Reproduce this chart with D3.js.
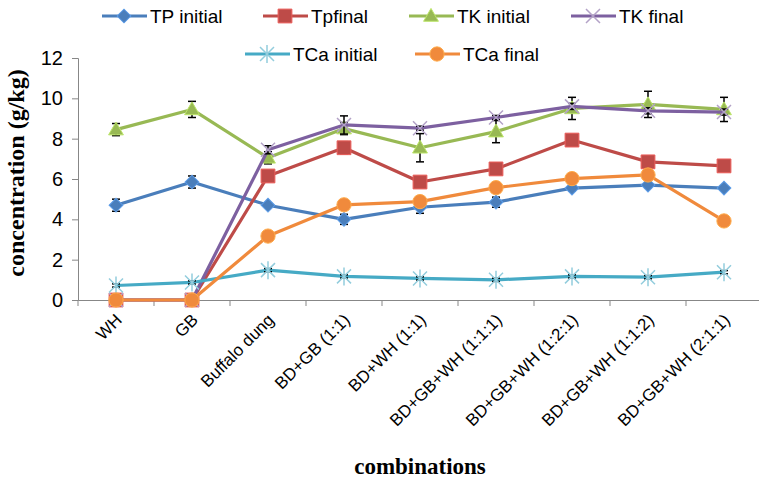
<!DOCTYPE html>
<html>
<head>
<meta charset="utf-8">
<script src="https://cdn.jsdelivr.net/npm/d3@7"></script>
<style>
    body { margin: 0; background: #fff; }
    svg { display: block; }
    text { font-family: 'Liberation Sans Narrow', 'Arial Narrow', 'Liberation Sans', sans-serif; fill: #000; }
    .title { font-family: 'Liberation Serif', 'Times New Roman', serif; font-weight: bold; }
</style>
</head>
<body>
<svg id="chart"></svg>
<script>
const width = 759;
const height = 480;

const categories = ['WH', 'GB', 'Buffalo dung', 'BD+GB (1:1)', 'BD+WH (1:1)', 'BD+GB+WH (1:1:1)',
    'BD+GB+WH (1:2:1)', 'BD+GB+WH (1:1:2)', 'BD+GB+WH (2:1:1)'];
const yTicks = [0, 2, 4, 6, 8, 10, 12];

const tpInitial = [4.7, 5.85, 4.7, 4.0, 4.6, 4.85, 5.55, 5.7, 5.55];
const tpFinal = [0, 0, 6.15, 7.55, 5.85, 6.5, 7.93, 6.85, 6.65];
const tkInitial = [8.45, 9.45, 7.05, 8.5, 7.55, 8.35, 9.5, 9.7, 9.45];
const tkFinal = [0, 0, 7.45, 8.68, 8.52, 9.05, 9.6, 9.38, 9.32];
const tcaInitial = [0.72, 0.87, 1.48, 1.17, 1.07, 1.0, 1.17, 1.13, 1.38];
const tcaFinal = [0, 0, 3.17, 4.72, 4.88, 5.57, 6.02, 6.2, 3.92];

const tpInitialErr = [0.3, 0.3, 0.1, 0.25, 0.3, 0.25, 0.15, 0.15, 0.1];
const tpFinalErr = [0, 0, 0.15, 0.3, 0.1, 0.1, 0.1, 0.1, 0.1];
const tkInitialErr = [0.3, 0.4, 0.3, 0.3, 0.7, 0.55, 0.55, 0.65, 0.6];
const tkFinalErr = [0, 0, 0.2, 0.45, 0.1, 0.1, 0.15, 0.15, 0.15];
const tcaInitialErr = [0.08, 0.08, 0.08, 0.08, 0.08, 0.08, 0.08, 0.08, 0.08];
const tcaFinalErr = [0.1, 0.1, 0.1, 0.1, 0.1, 0.1, 0.1, 0.1, 0.1];

const series = [
    { name: 'TP initial', values: tpInitial, err: tpInitialErr, color: '#4a7ebb', marker: 'diamond', mark: '#4a7ebb' },
    { name: 'Tpfinal', values: tpFinal, err: tpFinalErr, color: '#be4b48', marker: 'square', mark: '#be4b48' },
    { name: 'TK initial', values: tkInitial, err: tkInitialErr, color: '#98b954', marker: 'triangle', mark: '#98b954' },
    { name: 'TK final', values: tkFinal, err: tkFinalErr, color: '#7d60a0', marker: 'x', mark: '#b3a2c7' },
    { name: 'TCa initial', values: tcaInitial, err: tcaInitialErr, color: '#46aac5', marker: 'star', mark: '#93cddd' },
    { name: 'TCa final', values: tcaFinal, err: tcaFinalErr, color: '#f08a3c', marker: 'circle', mark: '#f08a3c' }
];

const legendPos = [[102, 16], [263, 16], [409, 16], [571, 16], [245, 54], [415, 54]];

const margin = { top: 58, right: -3, bottom: 180, left: 78 };

const svg = d3.select('#chart')
    .attr('width', width)
    .attr('height', height);

const x = d3.scaleBand()
    .domain(categories)
    .range([margin.left, width - margin.right]);

const y = d3.scaleLinear()
    .domain([0, 12])
    .range([height - margin.bottom, margin.top]);

const cx = c => x(c) + x.bandwidth() / 2;

const drawMarker = (g, type, fill, stroke) => {
    if (type === 'x' || type === 'star') {
        const p = type === 'x'
            ? 'M-7,-7L7,7M-7,7L7,-7'
            : 'M-7,-7L7,7M-7,7L7,-7M0,-9V9';
        g.append('path').attr('d', p)
            .attr('stroke', fill).attr('stroke-width', 1.5).attr('fill', 'none');
        return;
    }
    const sym = {
        diamond: d3.symbol(d3.symbolSquare, 95),
        square: d3.symbol(d3.symbolSquare, 190),
        triangle: d3.symbol(d3.symbolTriangle, 95),
        circle: d3.symbol(d3.symbolCircle, 160)
    }[type];
    g.append('path')
        .attr('d', sym())
        .attr('transform', type === 'diamond' ? 'rotate(45)' : type === 'triangle' ? 'translate(0,1)' : null)
        .attr('fill', fill)
        .attr('stroke', stroke)
        .attr('stroke-width', 1);
};

// axes
const yAxis = svg.append('g')
    .attr('transform', `translate(${margin.left},0)`)
    .call(d3.axisLeft(y).tickValues(yTicks).tickSize(6).tickPadding(9));

const xAxis = svg.append('g')
    .attr('transform', `translate(0,${y(0)})`)
    .call(d3.axisBottom(x).tickSize(0).tickFormat(''));

[yAxis, xAxis].forEach(a => {
    a.select('.domain').attr('stroke', '#878787').attr('stroke-width', 1);
    a.selectAll('.tick line').attr('stroke', '#878787');
});
yAxis.selectAll('.tick text').style('font-size', '20px').attr('fill', '#000');

svg.append('g')
    .selectAll('line')
    .data(categories.concat(['end']))
    .enter().append('line')
    .attr('x1', (d, i) => i < categories.length ? x(d) : x.range()[1])
    .attr('x2', (d, i) => i < categories.length ? x(d) : x.range()[1])
    .attr('y1', y(0))
    .attr('y2', y(0) + 6)
    .attr('stroke', '#878787');

svg.append('g')
    .selectAll('text')
    .data(categories)
    .enter().append('text')
    .attr('transform', d => `translate(${cx(d) + 7},${y(0) + 21}) rotate(-45)`)
    .attr('text-anchor', 'end')
    .style('font-size', '17px')
    .text(d => d);

// series
const line = d3.line()
    .x((d, i) => cx(categories[i]))
    .y(d => y(d));

series.forEach(s => {
    const g = svg.append('g');
    g.append('path')
        .datum(s.values)
        .attr('d', line)
        .attr('fill', 'none')
        .attr('stroke', s.color)
        .attr('stroke-width', 3.2)
        .attr('stroke-linejoin', 'round');

    const eb = g.selectAll('.err')
        .data(s.values.map((v, i) => ({ v, e: s.err[i], c: categories[i] })).filter(d => d.e > 0))
        .enter().append('g')
        .attr('stroke', '#000')
        .attr('stroke-width', 1.5);
    eb.append('line')
        .attr('x1', d => cx(d.c)).attr('x2', d => cx(d.c))
        .attr('y1', d => y(d.v - d.e)).attr('y2', d => y(d.v + d.e));
    eb.append('line')
        .attr('x1', d => cx(d.c) - 4).attr('x2', d => cx(d.c) + 4)
        .attr('y1', d => y(d.v + d.e)).attr('y2', d => y(d.v + d.e));
    eb.append('line')
        .attr('x1', d => cx(d.c) - 4).attr('x2', d => cx(d.c) + 4)
        .attr('y1', d => y(d.v - d.e)).attr('y2', d => y(d.v - d.e));

    s.values.forEach((v, i) => {
        const m = g.append('g').attr('transform', `translate(${cx(categories[i])},${y(v)})`);
        drawMarker(m, s.marker, s.mark, d3.color(s.mark).brighter(0.6));
    });
});

// legend
const legend = svg.append('g');
series.forEach((s, i) => {
    const [lx, ly] = legendPos[i];
    const item = legend.append('g').attr('transform', `translate(${lx},${ly})`);
    item.append('line')
        .attr('x1', 0).attr('x2', 45)
        .attr('stroke', s.color)
        .attr('stroke-width', 3.2);
    drawMarker(item.append('g').attr('transform', 'translate(22,0)'), s.marker, s.mark, d3.color(s.mark).brighter(0.6));
    item.append('text')
        .attr('x', 48)
        .attr('y', 7)
        .style('font-size', '19px')
        .text(s.name);
});

// titles
svg.append('text')
    .attr('class', 'title')
    .attr('transform', 'translate(24,173) rotate(-90)')
    .attr('text-anchor', 'middle')
    .style('font-size', '24px')
    .text('concentration (g/kg)');

svg.append('text')
    .attr('class', 'title')
    .attr('x', 420)
    .attr('y', 474)
    .attr('text-anchor', 'middle')
    .style('font-size', '23px')
    .text('combinations');
</script>
</body>
</html>
